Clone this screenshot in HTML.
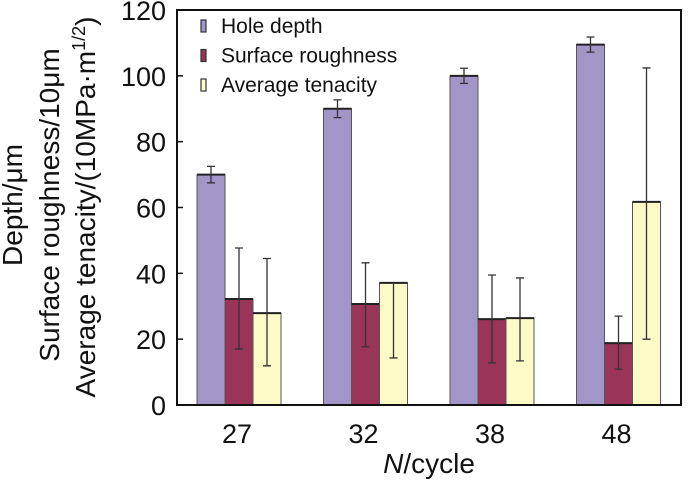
<!DOCTYPE html>
<html><head><meta charset="utf-8"><style>
body{margin:0;background:#fff;}
svg{display:block;font-family:"Liberation Sans",Arial,sans-serif;}
</style></head><body>
<svg id="chart" width="700" height="480" viewBox="0 0 700 480"></svg>
<script>
const categories=["27","32","38","48"];
const holeDepth=[70,90,100,109.5];
const holeErr=[2.5,2.7,2.3,2.3];
const roughness=[32.2,30.7,26.1,18.8];
const roughErrUp=[15.5,12.5,13.4,8.2];
const roughErrDown=[15.2,13,13.3,7.9];
const tenacity=[27.9,37.1,26.4,61.7];
const tenErrUp=[16.6,0,12.2,40.7];
const tenErrDown=[16,22.8,13,41.7];
const yTicks=[0,20,40,60,80,100,120];
const seriesNames=["Hole depth","Surface roughness","Average tenacity"];
const colors=["#a296c8","#9a3459","#fcfac7"];

const NS="http://www.w3.org/2000/svg";
const svg=document.getElementById('chart');
const L=177,R=681,T=10,B=405,YMAX=120;
const y=v=>B-(v/YMAX)*(B-T);
const groupCenter=i=>239+i*126.5;
const BW=28;
function mk(tag,attrs,parent){const e=document.createElementNS(NS,tag);for(const k in attrs)e.setAttribute(k,attrs[k]);(parent||svg).appendChild(e);return e;}

const series=[[holeDepth,holeErr,holeErr],[roughness,roughErrUp,roughErrDown],[tenacity,tenErrUp,tenErrDown]];
categories.forEach((c,i)=>{
  const g=mk('g',{});
  
  
  series.forEach((s,j)=>{
    const x=groupCenter(i)+(j-1.5)*BW;
    const v=s[0][i];
    const r=mk('rect',{x:x,y:y(v),width:BW,height:B-y(v),fill:colors[j],stroke:'#555','stroke-width':1},g);
    
    
    mk('line',{x1:x,x2:x+BW,y1:y(v),y2:y(v),stroke:'#222','stroke-width':2},g);
    const cx=x+BW/2, up=s[1][i], dn=s[2][i];
    const top=y(v+up), bot=y(v-dn);
    const e=mk('path',{d:`M${cx},${top}V${bot}`+(up>0?`M${cx-4},${top}H${cx+4}`:'')+`M${cx-4},${bot}H${cx+4}`,stroke:'#333','stroke-width':1.3,fill:'none'},g);
    
    
  });
  const t=mk('text',{x:groupCenter(i)-2,y:443,'text-anchor':'middle','font-size':27,fill:'#111'});
  t.textContent=c;
  
  
});
const fr=mk('rect',{x:L,y:T,width:R-L,height:B-T,fill:'none',stroke:'#111','stroke-width':2});


yTicks.forEach(v=>{
  mk('line',{x1:L,x2:L+6,y1:y(v),y2:y(v),stroke:'#111','stroke-width':1.5});
  const t=mk('text',{x:166,y:y(v)+10,'text-anchor':'end','font-size':27,fill:'#111'});
  t.textContent=v;
  
  
});
seriesNames.forEach((n,j)=>{
  const ly=33+j*29.5;
  const s=mk('rect',{x:201,y:ly-13,width:5,height:12,fill:colors[j],stroke:'#333','stroke-width':1.2});
  
  
  const t=mk('text',{x:221,y:ly,'font-size':21,fill:'#111'});
  t.textContent=n;
  
  
});
</script>
<svg style="position:absolute;left:0;top:0" width="700" height="480">
<g font-family="Liberation Sans,Arial,sans-serif" font-size="28" fill="#111" text-anchor="middle">
<text transform="translate(22,205) rotate(-90)">Depth/μm</text>
<text transform="translate(59,205) rotate(-90)">Surface roughness/10μm</text>
<text transform="translate(95,207) rotate(-90)">Average tenacity/(10MPa·m<tspan font-size="18" dy="-10">1/2</tspan><tspan dy="10">)</tspan></text>
<text x="429" y="473"><tspan font-style="italic">N</tspan>/cycle</text>
</g></svg>
</body></html>
